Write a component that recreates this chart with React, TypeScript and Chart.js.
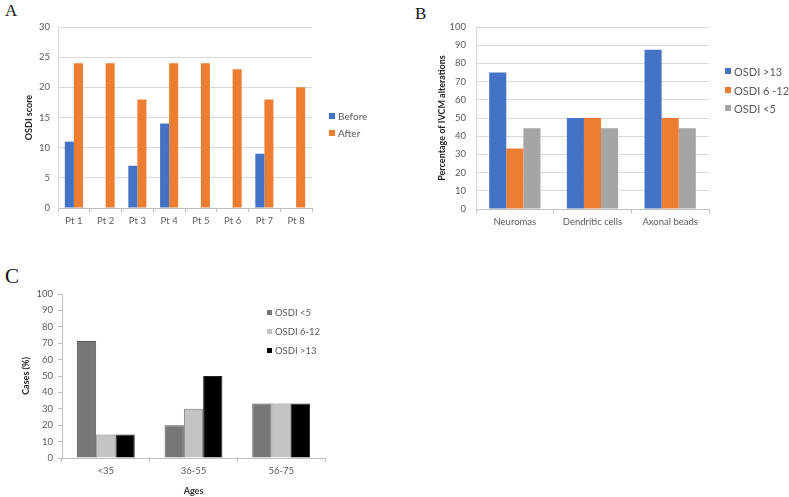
import React, { useEffect, useRef } from "react";
import { Chart, registerables } from "chart.js";
Chart.register(...registerables);

// Panel A
const patientLabels = ["Pt 1", "Pt 2", "Pt 3", "Pt 4", "Pt 5", "Pt 6", "Pt 7", "Pt 8"];
const beforeScores = [11, 0, 7, 14, 0, 0, 9, 0];
const afterScores = [24, 24, 18, 24, 24, 23, 18, 20];

// Panel B
const alterationLabels = ["Neuromas", "Dendritic cells", "Axonal beads"];
const alterHigh = [75, 50, 87.5];
const alterMid = [33.3, 50, 50];
const alterLow = [44.4, 44.4, 44.4];

// Panel C
const ageLabels = ["<35", "36-55", "56-75"];
const casesLow = [71.4, 20, 33.3];
const casesMid = [14.3, 30, 33.3];
const casesHigh = [14.3, 50, 33.3];

const FONT = "Lato, 'Open Sans', sans-serif";
const TXT = "#595959";

type PanelProps = { left: number; top: number; width: number; height: number; config: any };

function Panel({ left, top, width, height, config }: PanelProps) {
  const ref = useRef<HTMLCanvasElement | null>(null);
  useEffect(() => {
    if (!ref.current) return;
    const chart = new Chart(ref.current, config);
    return () => chart.destroy();
  }, []);
  return (
    <canvas
      ref={ref}
      width={width}
      height={height}
      style={{ position: "absolute", left, top, width, height }}
    />
  );
}

function makeConfig(opts: {
  labels: string[];
  datasets: any[];
  pad: { left: number; top: number; right: number; bottom: number };
  yWidth: number;
  xHeight: number;
  yMax: number;
  yStep: number;
  yTitle: string;
  yTickPad: number;
  yGrid: boolean;
  yTicksOut: boolean;
  catPct: number;
  xTitle?: string;
  yBorder: string;
}) {
  return {
    type: "bar",
    data: { labels: opts.labels, datasets: opts.datasets },
    options: {
      responsive: false,
      animation: false,
      devicePixelRatio: 1,
      layout: { padding: opts.pad },
      plugins: { legend: { display: false }, tooltip: { enabled: false } },
      datasets: { bar: { categoryPercentage: opts.catPct, barPercentage: 1 } },
      scales: {
        x: {
          afterFit: (s: any) => {
            s.height = opts.xHeight;
          },
          grid: {
            display: true,
            drawOnChartArea: false,
            drawTicks: true,
            tickLength: 4,
            color: "#BFBFBF",
          },
          border: { display: true, color: "#BFBFBF" },
          ticks: { color: TXT, font: { family: FONT, size: 9.5 }, padding: 3, maxRotation: 0 },
          title: opts.xTitle
            ? {
                display: true,
                text: opts.xTitle,
                color: "#333",
                font: { family: FONT, size: 9, weight: "bold" },
                padding: { top: 0, bottom: 1 },
              }
            : { display: false },
        },
        y: {
          min: 0,
          max: opts.yMax,
          afterFit: (s: any) => {
            s.width = opts.yWidth;
          },
          grid: {
            display: true,
            drawOnChartArea: opts.yGrid,
            drawTicks: opts.yTicksOut,
            tickLength: 4,
            color: opts.yGrid ? "#D9D9D9" : "#BFBFBF",
          },
          border: { display: true, color: opts.yBorder },
          ticks: {
            stepSize: opts.yStep,
            color: TXT,
            font: { family: FONT, size: 9.5 },
            padding: opts.yTickPad,
          },
          title: {
            display: true,
            text: opts.yTitle,
            color: "#222",
            font: { family: FONT, size: 9, weight: "bold" },
            padding: { top: 4, bottom: 4 },
          },
        },
      },
    },
  };
}

const configA = makeConfig({
  labels: patientLabels,
  datasets: [
    { label: "Before", data: beforeScores, backgroundColor: "#4472C4" },
    { label: "After", data: afterScores, backgroundColor: "#ED7D31" },
  ],
  pad: { left: 20, top: 27, right: 78, bottom: 8 },
  yWidth: 38,
  xHeight: 24,
  yMax: 30,
  yStep: 5,
  yTitle: "OSDI score",
  yTickPad: 8,
  yGrid: true,
  yTicksOut: false,
  catPct: 0.57,
  yBorder: "#D9D9D9",
});

const configB = makeConfig({
  labels: alterationLabels,
  datasets: [
    { label: "OSDI >13", data: alterHigh, backgroundColor: "#4472C4" },
    { label: "OSDI 6 -12", data: alterMid, backgroundColor: "#ED7D31" },
    { label: "OSDI <5", data: alterLow, backgroundColor: "#A5A5A5" },
  ],
  pad: { left: 43, top: 27, right: 80, bottom: 7 },
  yWidth: 43,
  xHeight: 24,
  yMax: 100,
  yStep: 10,
  yTitle: "Percentage of IVCM alterations",
  yTickPad: 10,
  yGrid: true,
  yTicksOut: false,
  catPct: 0.66,
  yBorder: "#D9D9D9",
});

const configC = makeConfig({
  labels: ageLabels,
  datasets: [
    { label: "OSDI <5", data: casesLow, backgroundColor: "#777777", borderColor: "#555555", borderWidth: 1 },
    { label: "OSDI 6-12", data: casesMid, backgroundColor: "#C4C4C4", borderColor: "#777777", borderWidth: 1 },
    { label: "OSDI >13", data: casesHigh, backgroundColor: "#000000", borderColor: "#222222", borderWidth: 1 },
  ],
  pad: { left: 17, top: 44, right: 75, bottom: 0 },
  yWidth: 45,
  xHeight: 39,
  yMax: 100,
  yStep: 10,
  yTitle: "Cases (%)",
  yTickPad: 5,
  yGrid: false,
  yTicksOut: true,
  catPct: 0.66,
  xTitle: "Ages",
  yBorder: "#BFBFBF",
});

type LegendItem = { text: string; color: string; y: number };

function Legend({ x, items, size, sq }: { x: number; items: LegendItem[]; size: number; sq: number }) {
  return (
    <>
      {items.map((it) => (
        <div
          key={it.text}
          style={{
            position: "absolute",
            left: x,
            top: it.y - 8,
            height: 16,
            display: "flex",
            alignItems: "center",
            fontFamily: FONT,
            fontSize: size,
            color: TXT,
            whiteSpace: "nowrap",
          }}
        >
          <span style={{ display: "inline-block", width: sq, height: sq, background: it.color, marginRight: 3 }} />
          <span>{it.text}</span>
        </div>
      ))}
    </>
  );
}

const letterStyle = (left: number, top: number, size: number): React.CSSProperties => ({
  position: "absolute",
  left,
  top,
  fontFamily: "'Liberation Serif', 'Times New Roman', serif",
  fontSize: size,
  lineHeight: 1,
  color: "#111",
});

export default function App() {
  return (
    <div
      style={{
        position: "absolute",
        left: 0,
        top: 0,
        width: 789,
        height: 497,
        background: "#fff",
        overflow: "hidden",
      }}
    >
      <div style={letterStyle(5, 2, 17)}>A</div>
      <div style={letterStyle(415, 5, 17)}>B</div>
      <div style={letterStyle(5, 266, 21)}>C</div>

      <Panel left={0} top={0} width={390} height={240} config={configA} />
      <Panel left={390} top={0} width={399} height={240} config={configB} />
      <Panel left={0} top={250} width={400} height={247} config={configC} />

      <Legend
        x={329}
        size={10}
        sq={6}
        items={[
          { text: "Before", color: "#4472C4", y: 115.5 },
          { text: "After", color: "#ED7D31", y: 133 },
        ]}
      />
      <Legend
        x={725}
        size={11}
        sq={6}
        items={[
          { text: "OSDI >13", color: "#4472C4", y: 71 },
          { text: "OSDI 6 -12", color: "#ED7D31", y: 90 },
          { text: "OSDI <5", color: "#A5A5A5", y: 108 },
        ]}
      />
      <Legend
        x={267}
        size={9.5}
        sq={5}
        items={[
          { text: "OSDI <5", color: "#777777", y: 312.5 },
          { text: "OSDI 6-12", color: "#C4C4C4", y: 331.5 },
          { text: "OSDI >13", color: "#000000", y: 350.5 },
        ]}
      />
    </div>
  );
}
